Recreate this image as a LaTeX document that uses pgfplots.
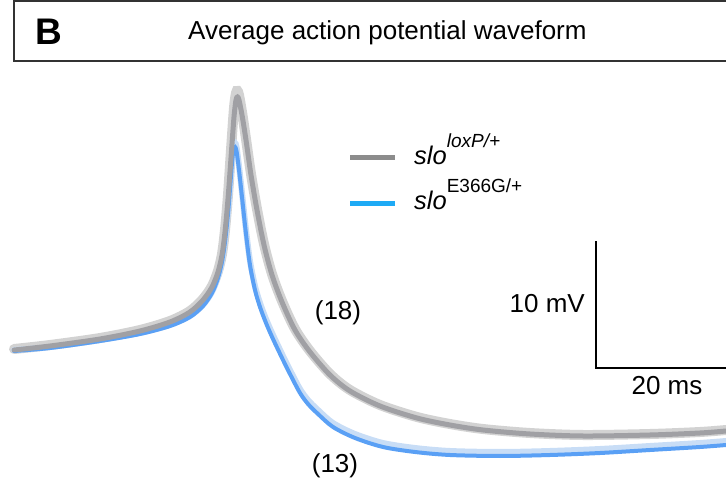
\documentclass[border=0pt]{standalone}
\usepackage{pgfplots}
\pgfplotsset{compat=1.18}
\usepackage{fontspec}
\setmainfont{Liberation Sans}
\definecolor{graymean}{HTML}{A0A0A4}
\definecolor{grayband}{HTML}{D2D2D2}
\definecolor{bluemean}{HTML}{5AA0F5}
\definecolor{blueband}{HTML}{C8DDF6}
\definecolor{leggray}{HTML}{8C8C8C}
\definecolor{legblue}{HTML}{1EAAF5}
\definecolor{boxline}{HTML}{333333}
\newcommand{\fs}[1]{\fontsize{#1}{#1}\selectfont}
\begin{document}
\begin{tikzpicture}
\begin{axis}[
  at={(0,0)}, anchor=south west,
  x=1pt, y=1pt, y dir=reverse,
  xmin=0, xmax=726, ymin=0, ymax=486,
  hide axis, clip=false,
]
% title box
\draw[boxline, line width=1.5pt] (axis cs:14,1) rectangle (axis cs:760,61);
\node[anchor=base west, inner sep=0, font=\fs{37}\bfseries] at (axis cs:35,45) {B};
\node[anchor=base west, inner sep=0, font=\fs{26}] at (axis cs:188,40) {Average action potential waveform};

% gray band
\addplot[grayband, line width=10pt, smooth, line cap=round] coordinates {
(14,349) (50,345) (100,338) (140,330) (170,321) (190,311) (203,299) (212,286) (218,271) (222,254) (225,230) (228,195) (231,150) (234,108) (236,93) (237.5,91) (239,95) (242,112) (246,139) (251,174) (257,209) (264,244) (272,274) (282,301) (295,329) (310,351) (330,374) (350,390) (380,405) (417,417) (450,424) (483,429) (530,433) (583,435) (650,434) (700,432) (726,430)
};
% blue band
\addplot[blueband, line width=6pt, smooth, line cap=round] coordinates {
(14,350) (50,347) (100,340) (140,333) (170,325) (190,316) (203,305) (212,292) (218,277) (222,261) (225,240) (228,212) (230,186) (232,160) (233.5,146) (235,143) (236.5,147) (239,166) (242,193) (246,230) (250,261) (255,286) (260,303) (266,319) (273,335) (283,356) (291,372) (300,389) (308,400) (318,410) (333,423) (355,434) (383,443) (415,448) (450,451) (500,452) (550,451) (600,449) (650,446) (700,443) (726,441)
};
% blue mean
\addplot[bluemean, line width=4pt, smooth, line cap=round] coordinates {
(14,351) (50,348) (100,341) (140,334) (170,326) (190,317) (203,306) (212,293) (218,278) (222,262) (225,242) (228,214) (230,189) (232,163) (233.5,150) (235,147) (236.5,151) (239,170) (242,197) (246,234) (250,265) (255,290) (260,307) (266,323) (273,339) (283,360) (291,376) (300,393) (308,404) (318,414) (333,427) (355,438) (383,447) (415,452) (450,455) (500,456) (550,455) (600,453) (650,450) (700,447) (726,445)
};
% gray mean
\addplot[graymean, line width=5pt, smooth, line cap=round] coordinates {
(14,350) (50,346) (100,339) (140,331) (170,322) (190,312) (203,300) (212,287) (218,272) (222,255) (225,232) (228,199) (231,158) (234,117) (236,100) (237.5,97) (239,100) (242,115) (246,140) (251,175) (257,210) (264,245) (272,275) (282,302) (295,330) (310,352) (330,375) (350,391) (380,406) (417,418) (450,425) (483,430) (530,434) (583,436) (650,435) (700,433) (726,431)
};

% legend
\draw[leggray, line width=5pt] (axis cs:350,158) -- (axis cs:395,158);
\draw[legblue, line width=5pt] (axis cs:350,204) -- (axis cs:395,204);
\node[anchor=base west, inner sep=0, font=\fs{25.5}] at (axis cs:414,165) {\itshape slo\raisebox{17pt}{\fs{19}\itshape loxP/+}};
\node[anchor=base west, inner sep=0, font=\fs{25.5}] at (axis cs:414,210) {\itshape slo\raisebox{17pt}{\fs{19}\upshape E366G/+}};

% scale bar
\draw[black, line width=2.5pt, line cap=rect] (axis cs:596,242) -- (axis cs:596,368) -- (axis cs:760,368);
\node[anchor=base east, inner sep=0, font=\fs{26}] at (axis cs:585,313) {10 mV};
\node[anchor=base, inner sep=0, font=\fs{26}] at (axis cs:667,395) {20 ms};

% n labels
\node[anchor=base, inner sep=0, font=\fs{26}] at (axis cs:338,320) {(18)};
\node[anchor=base, inner sep=0, font=\fs{26}] at (axis cs:335,472) {(13)};
\end{axis}
\pgfresetboundingbox
\path (0,0) rectangle (726pt,486pt);
\end{tikzpicture}
\end{document}
